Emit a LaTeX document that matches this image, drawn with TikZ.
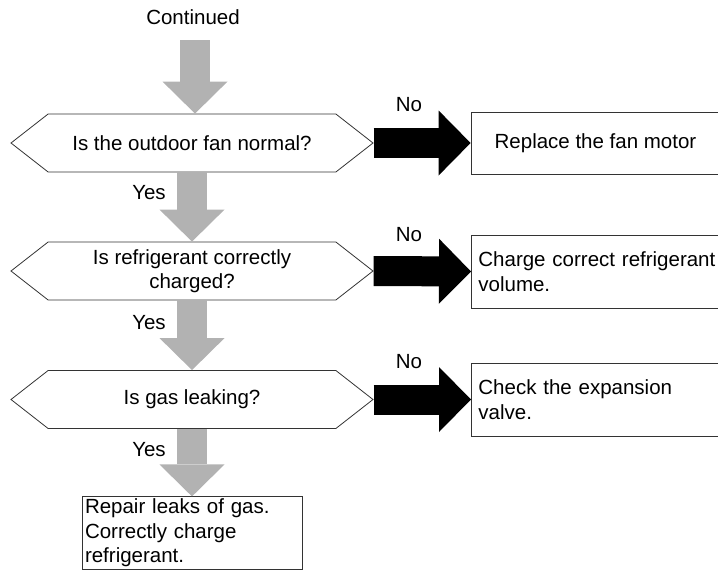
\documentclass[tikz,border=0pt]{standalone}
\usepackage{fontspec}
\setmainfont{Liberation Sans}
\usetikzlibrary{shapes.symbols,arrows.meta}
\tikzset{
    question/.style={signal, signal to=west and east, signal pointer angle=76,
        draw=black!80, line width=0.8pt, minimum width=362pt, minimum height=58pt,
        inner sep=0pt, align=center},
    action/.style={rectangle, draw=black!80, line width=0.8pt, inner ysep=2pt},
    fatgrey/.style={draw=gray!60, line width=30pt,
        -{Triangle[length=32pt,width=65pt,line width=0pt]}},
    fatblack/.style={draw=black, line width=30pt,
        -{Triangle[length=32pt,width=65pt,line width=0pt]}}
}
\begin{document}
\begin{tikzpicture}[x=1pt, y=-1pt, every node/.style={font=\fontsize{20.5}{24.6}\selectfont}]
            \useasboundingbox (0,0) rectangle (718,570);
            \node (cont) at (193,17) {Continued};
            \coordinate (c0) at (195,40);
            % questions
            \node [question] (q1) at (192,143) {Is the outdoor fan normal?};
            \node [question] (q2) at (192,271) {Is refrigerant correctly\\charged?};
            \node [question] (q3) at (192,399.5) {Is gas leaking?};
            % actions
            \node [action, minimum width=249pt, minimum height=62pt] (a1) at (595.5,143) {Replace the fan motor};
            \node [action, anchor=west, text width=240pt, inner xsep=7pt, minimum height=73pt, align=left] (a2) at (471,271.5) {Charge correct refrigerant\\volume.};
            \node [action, anchor=west, text width=240pt, inner xsep=7pt, minimum height=73pt, align=left] (a3) at (471,399.5) {Check the expansion\\valve.};
            \node [action, text width=214pt, inner xsep=3pt, minimum height=72pt, align=left] (a4) at (192,533) {Repair leaks of gas.\\Correctly charge\\refrigerant.};
            % arrows
            \draw [fatgrey] (c0) -- (c0 |- q1.north);
            \draw [fatgrey] (q1.south) -- (q2.north);
            \draw [fatgrey] (q2.south) -- (q3.north);
            \draw [fatgrey] (q3.south) -- (a4.north);
            \draw [fatblack] (q1.east) -- (a1.west);
            \draw [fatblack] (q2.east) -- (a2.west);
            \draw [fatblack] (q3.east) -- (a3.west);
            % labels
            \node (y1) at (149,193) {Yes};
            \node (y2) at (149,323) {Yes};
            \node (y3) at (149,450) {Yes};
            \node (n1) at (409,105) {No};
            \node (n2) at (409,235) {No};
            \node (n3) at (409,362) {No};
\end{tikzpicture}
\end{document}
